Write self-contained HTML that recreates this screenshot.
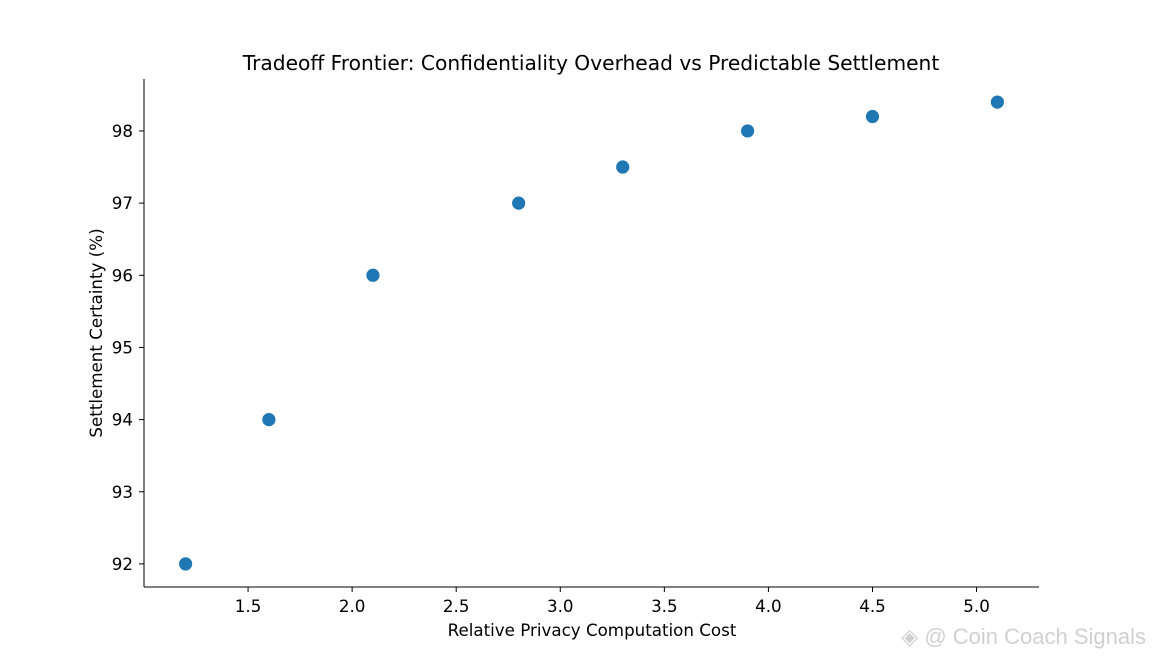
<!DOCTYPE html>
<html><head><meta charset="utf-8">
<style>
html,body{margin:0;padding:0;background:#fff;}
svg{display:block;font-family:"DejaVu Sans","Liberation Sans",sans-serif;}
</style></head>
<body>
<svg id="chart" width="1154" height="660">
  <text x="591" y="70" text-anchor="middle" font-size="20.2" fill="#000">Tradeoff Frontier: Confidentiality Overhead vs Predictable Settlement</text>
  <g id="xticks"></g>
  <g id="yticks"></g>
  <g id="points"></g>
  <line x1="144" y1="79" x2="144" y2="587" stroke="#000" stroke-width="1"/>
  <line x1="144" y1="587" x2="1039" y2="587" stroke="#000" stroke-width="1"/>
  <text x="592" y="636" text-anchor="middle" font-size="16.7">Relative Privacy Computation Cost</text>
  <text transform="translate(102,333) rotate(-90)" text-anchor="middle" font-size="16.7">Settlement Certainty (%)</text>
  <text x="1146" y="644" text-anchor="end" font-size="22" fill="#d0d0d0" font-family="Liberation Sans, sans-serif">◈ @ Coin Coach Signals</text>
</svg>
<script>
const costs = [1.2, 1.6, 2.1, 2.8, 3.3, 3.9, 4.5, 5.1];
const certainty = [92, 94, 96, 97, 97.5, 98, 98.2, 98.4];
const xTickLabels = ["1.5","2.0","2.5","3.0","3.5","4.0","4.5","5.0"];
const yTickLabels = ["92","93","94","95","96","97","98"];

const X0=144, X1=1039, Y0=587, Y1=79;
const xMin=1.0, xMax=5.3, yMin=91.68, yMax=98.72;
function xs(v){return X0+(v-xMin)/(xMax-xMin)*(X1-X0);}
function ys(v){return Y0-(v-yMin)/(yMax-yMin)*(Y0-Y1);}
const NS="http://www.w3.org/2000/svg";
const xg=document.getElementById('xticks'), yg=document.getElementById('yticks'), pg=document.getElementById('points');

xTickLabels.forEach(t=>{
  const x=xs(parseFloat(t));
  const l=document.createElementNS(NS,'line');
  l.setAttribute('x1',x);l.setAttribute('x2',x);l.setAttribute('y1',587);l.setAttribute('y2',592);l.setAttribute('stroke','#000');
  
  
  xg.appendChild(l);
  const tx=document.createElementNS(NS,'text');
  tx.setAttribute('x',x);tx.setAttribute('y',612);tx.setAttribute('text-anchor','middle');tx.setAttribute('font-size','16.7');
  tx.textContent=t;
  
  
  xg.appendChild(tx);
});
yTickLabels.forEach(t=>{
  const y=ys(parseFloat(t));
  const l=document.createElementNS(NS,'line');
  l.setAttribute('x1',139);l.setAttribute('x2',144);l.setAttribute('y1',y);l.setAttribute('y2',y);l.setAttribute('stroke','#000');
  
  
  yg.appendChild(l);
  const tx=document.createElementNS(NS,'text');
  tx.setAttribute('x',133);tx.setAttribute('y',y+6);tx.setAttribute('text-anchor','end');tx.setAttribute('font-size','16.7');
  tx.textContent=t;
  
  
  yg.appendChild(tx);
});
costs.forEach((c,i)=>{
  const p=document.createElementNS(NS,'circle');
  p.setAttribute('cx',xs(c));p.setAttribute('cy',ys(certainty[i]));p.setAttribute('r',7);
  p.setAttribute('fill','#1f77b4');p.setAttribute('stroke','#fff');p.setAttribute('stroke-width','0.8');
  
  
  pg.appendChild(p);
});
</script>
</body></html>
